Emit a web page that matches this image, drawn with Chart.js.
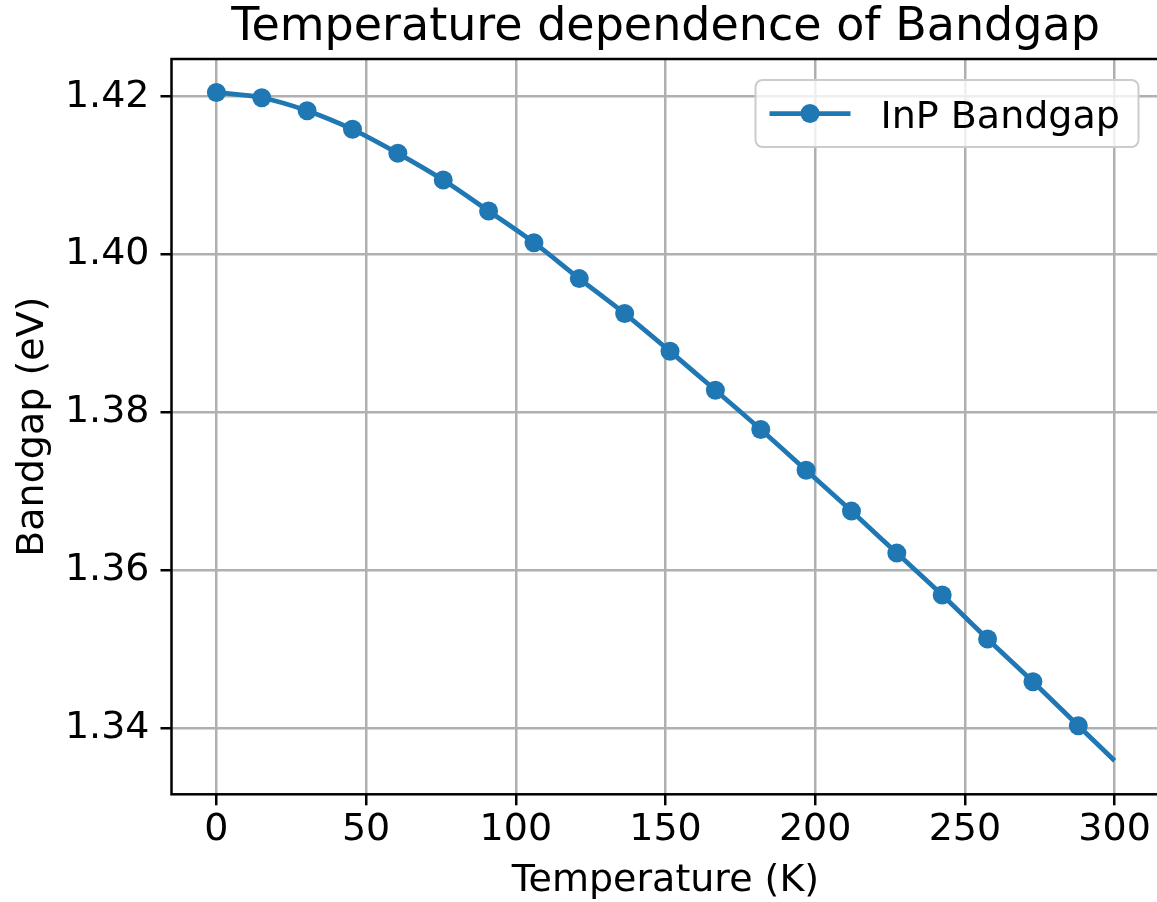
<!DOCTYPE html>
<html>
<head>
<meta charset="utf-8">
<title>Temperature dependence of Bandgap</title>
<script src="https://cdn.jsdelivr.net/npm/chart.js@4/dist/chart.umd.min.js"></script>
<style>
  html, body { margin: 0; padding: 0; background: #fff; overflow: hidden; }
  canvas { display: block; }
</style>
</head>
<body>
<canvas id="chart" width="1169" height="902"></canvas>
<script>
// Data (markers every ~15 K, line ends at 300 K)
const tempK = [0, 15.15, 30.30, 45.45, 60.61, 75.76, 90.91, 106.06, 121.21, 136.36,
               151.52, 166.67, 181.82, 196.97, 212.12, 227.27, 242.42, 257.58, 272.73, 287.88, 300];
const bandgapEV = [1.42054, 1.41987, 1.41823, 1.41587, 1.41283, 1.40945, 1.40552, 1.40151, 1.39696, 1.39253,
                   1.38775, 1.38282, 1.37785, 1.37269, 1.36751, 1.36219, 1.35688, 1.35131, 1.34590, 1.34033, 1.33590];
const xTicks = [0, 50, 100, 150, 200, 250, 300];
const yTicks = [1.34, 1.36, 1.38, 1.40, 1.42];

const BLUE = '#1f77b4';
const GRID = '#b0b0b0';

Chart.defaults.font.family = "'DejaVu Sans', 'Liberation Sans', sans-serif";
Chart.defaults.color = '#000';

// matplotlib-like frame (top/left/bottom/right spines)
const frame = {
  id: 'frame',
  afterDatasetsDraw(chart) {
    const { ctx, chartArea: a } = chart;
    ctx.save();
    ctx.strokeStyle = '#000';
    ctx.lineWidth = 2.5;
    ctx.strokeRect(a.left, a.top, a.right - a.left, a.bottom - a.top);
    ctx.restore();
  },
};

// legend box in upper right corner of the axes
const legendBox = {
  id: 'legendBox',
  afterDraw(chart) {
    const { ctx, chartArea: a } = chart;
    const ds = chart.data.datasets[0];
    const w = 383, h = 67;
    const x = a.right - 21 - w, y = a.top + 21;
    ctx.save();
    ctx.beginPath();
    ctx.roundRect(x, y, w, h, 7);
    ctx.fillStyle = 'rgba(255,255,255,0.8)';
    ctx.fill();
    ctx.strokeStyle = '#cccccc';
    ctx.lineWidth = 2;
    ctx.stroke();

    const cy = y + h / 2;
    ctx.strokeStyle = BLUE;
    ctx.lineWidth = 4.75;
    ctx.beginPath();
    ctx.moveTo(x + 14, cy);
    ctx.lineTo(x + 95, cy);
    ctx.stroke();
    ctx.fillStyle = BLUE;
    ctx.beginPath();
    ctx.arc(x + 54.5, cy, 9.5, 0, Math.PI * 2);
    ctx.fill();

    ctx.fillStyle = '#000';
    ctx.font = "38px 'DejaVu Sans'";
    ctx.textBaseline = 'alphabetic';
    ctx.textAlign = 'left';
    ctx.fillText(ds.label, x + 125, cy + 14);
    ctx.restore();
  },
};

new Chart(document.getElementById('chart'), {
  type: 'line',
  data: {
    datasets: [{
      label: 'InP Bandgap',
      data: tempK.map((t, i) => ({ x: t, y: bandgapEV[i] })),
      borderColor: BLUE,
      backgroundColor: BLUE,
      borderWidth: 4.75,
      pointRadius: ctx => (ctx.dataIndex === tempK.length - 1 ? 0 : 9.5),
      pointBorderWidth: 0,
      pointHoverRadius: 9.5,
      cubicInterpolationMode: 'monotone',
      fill: false,
    }],
  },
  options: {
    responsive: false,
    animation: false,
    layout: { padding: { left: 0, right: 3, top: 0, bottom: 0 } },
    plugins: {
      legend: { display: false },
      tooltip: { enabled: false },
      title: {
        display: true,
        text: 'Temperature dependence of Bandgap',
        fullSize: false,
        font: { size: 46, weight: 'normal', lineHeight: 1.2 },
        color: '#000',
        padding: { top: 0, bottom: 3.8 },
      },
    },
    scales: {
      x: {
        type: 'linear',
        min: -15,
        max: 315,
        afterBuildTicks: s => { s.ticks = xTicks.map(v => ({ value: v })); },
        afterFit: s => { s.height = 107.7; },
        ticks: {
          font: { size: 38, lineHeight: 1.2 },
          padding: 2.5,
          maxRotation: 0,
          callback: v => String(v),
        },
        grid: { color: GRID, lineWidth: 2.5, tickColor: '#000', tickLength: 11, tickWidth: 2.5 },
        border: { display: false },
        title: {
          display: true,
          text: 'Temperature (K)',
          font: { size: 38, lineHeight: 1 },
          padding: { top: 0, bottom: 2 },
        },
      },
      y: {
        type: 'linear',
        min: 1.33164,
        max: 1.424775,
        afterBuildTicks: s => { s.ticks = yTicks.map(v => ({ value: v })); },
        afterFit: s => { s.width = 171.5; },
        ticks: {
          font: { size: 38, lineHeight: 1.2 },
          padding: 11,
          callback: v => Number(v).toFixed(2),
        },
        grid: { color: GRID, lineWidth: 2.5, tickColor: '#000', tickLength: 11, tickWidth: 2.5 },
        border: { display: false },
        title: {
          display: true,
          text: 'Bandgap (eV)',
          font: { size: 38, lineHeight: 1 },
          padding: { top: 14.6, bottom: 0 },
        },
      },
    },
  },
  plugins: [frame, legendBox],
});
</script>
</body>
</html>
